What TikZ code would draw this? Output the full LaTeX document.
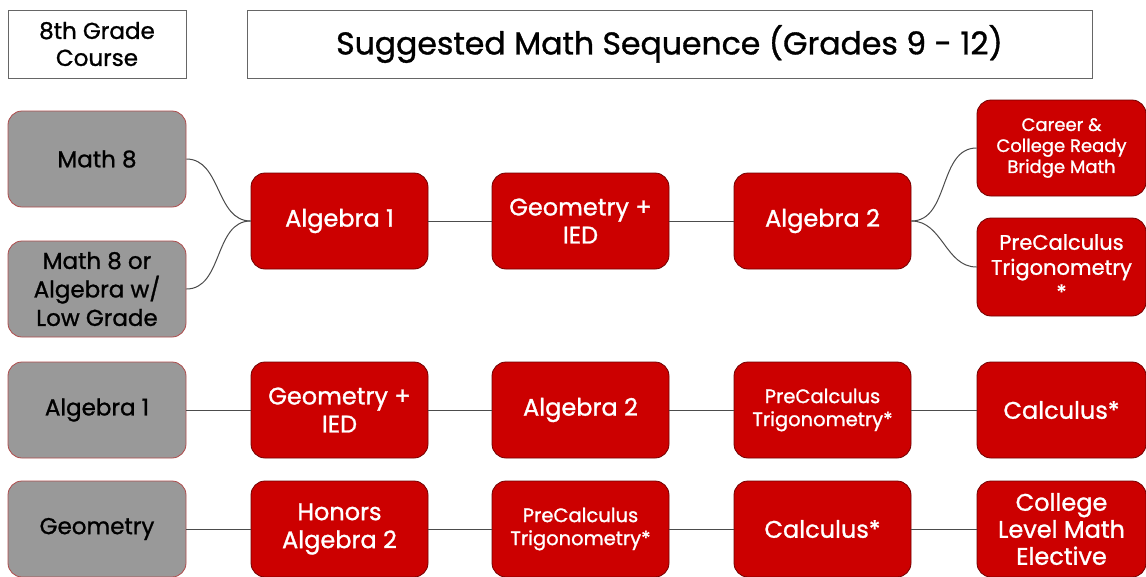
\documentclass[tikz,border=0pt]{standalone}
\usepackage{fontspec}
\setmainfont{Poppins}[RawFeature={embolden=1.1}]
\begin{document}
\begin{tikzpicture}[x=1pt,y=-1pt,
  hdr/.style={draw=black!60,line width=0.9pt,fill=white,text=black,align=center,inner sep=0pt},
  graybox/.style={draw=red!55!black!70,line width=0.8pt,fill=black!40,rounded corners=14pt,
     minimum width=178pt,minimum height=96pt,align=center,text=black,inner sep=0pt,font=\fontsize{23}{28.5}\selectfont},
  redbox/.style={draw=red!45!black,line width=0.8pt,fill=red!80!black,rounded corners=14pt,
     minimum width=177pt,minimum height=96pt,align=center,text=white,inner sep=0pt,font=\fontsize{24}{28}\selectfont},
  smalltxt/.style={font=\fontsize{19.5}{23}\selectfont},
  link/.style={draw=black!70,line width=1pt}]
\useasboundingbox (0,0) rectangle (1146,576);
\fill[white] (0,0) rectangle (1146,576);
% headers
\node[hdr,minimum width=178pt,minimum height=68pt,font=\fontsize{23}{27}\selectfont] (head) at (97,44) {8th Grade\\Course};
\node[hdr,minimum width=845pt,minimum height=68pt,font=\fontsize{31.5}{34}\selectfont] (title) at (669.5,44) {Suggested Math Sequence (Grades 9 - 12)};
% row 1
\node[graybox] (m8) at (97,159) {Math 8};
\node[graybox] (m8or) at (97,289) {Math 8 or\\Algebra w/\\Low Grade};
\node[redbox] (a1) at (339.5,221) {Algebra 1};
\node[redbox] (g1) at (580.5,221) {Geometry +\\IED};
\node[redbox] (a2) at (822.5,221) {Algebra 2};
\node[redbox,minimum width=169pt,font=\fontsize{18}{21}\selectfont] (car) at (1061.5,148) {Career \&\\College Ready\\Bridge Math};
\node[redbox,minimum width=169pt,minimum height=98pt,font=\fontsize{21}{25}\selectfont] (pc1) at (1061.5,267) {PreCalculus\\Trigonometry\\*};
% row 2
\node[graybox] (r2a) at (97,410) {Algebra 1};
\node[redbox] (r2b) at (339.5,410) {Geometry +\\IED};
\node[redbox] (r2c) at (580.5,410) {Algebra 2};
\node[redbox,smalltxt] (r2d) at (822.5,410) {PreCalculus\\Trigonometry*};
\node[redbox,minimum width=169pt] (r2e) at (1061.5,410) {Calculus*};
% row 3
\node[graybox] (r3a) at (97,529) {Geometry};
\node[redbox] (r3b) at (339.5,529) {Honors\\Algebra 2};
\node[redbox,smalltxt] (r3c) at (580.5,529) {PreCalculus\\Trigonometry*};
\node[redbox] (r3d) at (822.5,529) {Calculus*};
\node[redbox,minimum width=169pt,font=\fontsize{24}{27}\selectfont] (r3e) at (1061.5,529) {College\\Level Math\\Elective};
% connectors
\draw[link] (m8.east) to[out=0,in=180] (a1.west);
\draw[link] (m8or.east) to[out=0,in=180] (a1.west);
\draw[link] (a1) -- (g1);
\draw[link] (g1) -- (a2);
\draw[link] (a2.east) to[out=0,in=180] (car.west);
\draw[link] (a2.east) to[out=0,in=180] (pc1.west);
\draw[link] (r2a) -- (r2b);
\draw[link] (r2b) -- (r2c);
\draw[link] (r2c) -- (r2d);
\draw[link] (r2d) -- (r2e);
\draw[link] (r3a) -- (r3b);
\draw[link] (r3b) -- (r3c);
\draw[link] (r3c) -- (r3d);
\draw[link] (r3d) -- (r3e);
\end{tikzpicture}
\end{document}
